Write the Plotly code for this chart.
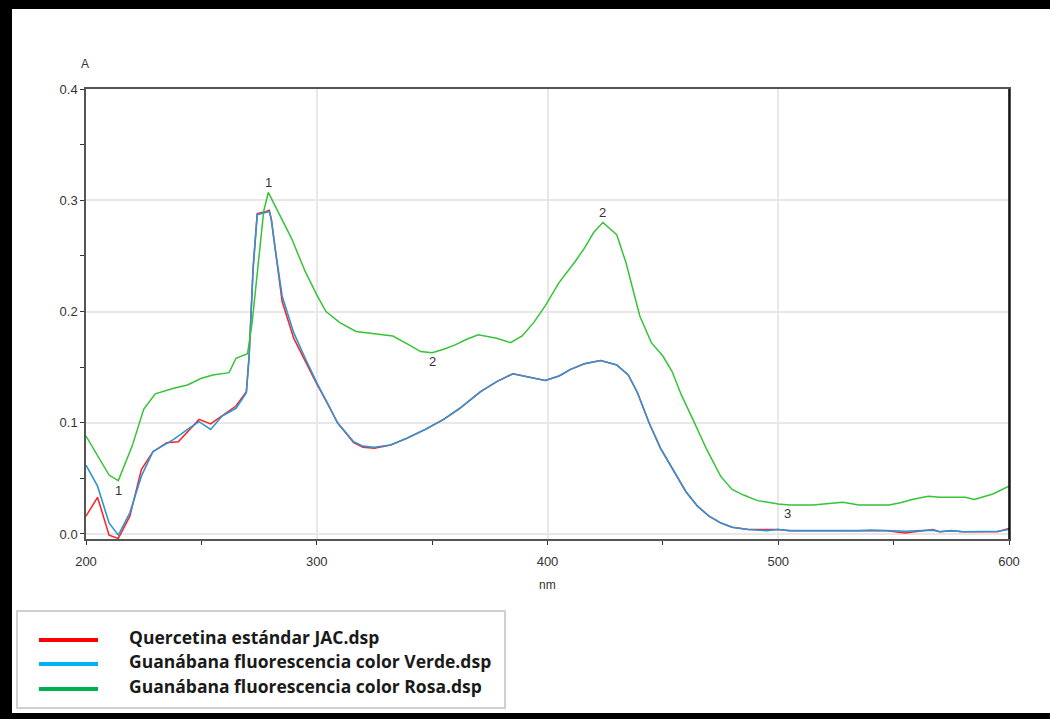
import plotly.graph_objects as go

# ---------------- data ----------------
wl_rosa = [200, 205, 210, 214, 220, 225, 230, 238, 244, 250, 255, 262, 265, 270,
           272, 275, 277, 279, 284, 289, 295, 300, 304, 310, 317, 325, 333, 340,
           345, 350, 355, 360, 365, 370, 378, 384, 389, 394, 399, 405, 412, 416,
           420, 424, 430, 434, 440, 445, 450, 454, 458, 463, 469, 475, 480, 485,
           491, 500, 505, 515, 522, 528, 535, 548, 553, 558, 565, 570, 581, 585,
           593, 600]
abs_rosa = [0.088, 0.071, 0.053, 0.048, 0.079, 0.112, 0.126, 0.131, 0.134, 0.140,
            0.143, 0.145, 0.158, 0.162, 0.190, 0.250, 0.290, 0.307, 0.286, 0.266,
            0.236, 0.215, 0.200, 0.190, 0.182, 0.180, 0.178, 0.170, 0.164, 0.163,
            0.166, 0.170, 0.175, 0.179, 0.176, 0.172, 0.178, 0.190, 0.205, 0.226,
            0.245, 0.257, 0.271, 0.280, 0.269, 0.244, 0.196, 0.172, 0.160, 0.146,
            0.125, 0.103, 0.076, 0.052, 0.040, 0.035, 0.030, 0.027, 0.026, 0.026,
            0.027, 0.0285, 0.026, 0.026, 0.028, 0.031, 0.034, 0.033, 0.033, 0.031,
            0.036, 0.043]

wl_verde = [200, 205, 210, 214, 219, 224, 229, 234, 238, 244, 249, 254, 259, 265,
            269.5, 270.7, 272.4, 274.2, 278, 279.4, 280.3, 282, 285, 290, 295, 300,
            305, 309, 316, 320, 325, 332, 339, 347, 355, 362, 371, 378, 385, 392,
            399, 405, 410, 416, 423, 430, 435, 439, 444, 449, 455, 460, 465, 470,
            475, 480, 487, 495, 500, 505, 535, 540, 547, 555, 562, 567, 570, 575,
            580, 590, 595, 600]
abs_verde = [0.062, 0.043, 0.010, -0.001, 0.019, 0.052, 0.074, 0.080, 0.085, 0.094,
             0.101, 0.094, 0.106, 0.113, 0.127, 0.160, 0.238, 0.287, 0.289, 0.290,
             0.283, 0.256, 0.214, 0.181, 0.158, 0.136, 0.116, 0.100, 0.083, 0.079,
             0.078, 0.080, 0.086, 0.094, 0.103, 0.113, 0.128, 0.137, 0.144, 0.141,
             0.138, 0.142, 0.148, 0.153, 0.156, 0.152, 0.143, 0.127, 0.100, 0.077,
             0.055, 0.038, 0.025, 0.016, 0.010, 0.006, 0.004, 0.003, 0.004, 0.003,
             0.003, 0.0035, 0.003, 0.0025, 0.003, 0.0035, 0.002, 0.003, 0.002, 0.002,
             0.0025, 0.004]

wl_querc = [200, 205, 210, 214, 219, 224, 229, 235, 240, 244, 249, 254, 259, 265,
            269.5, 270.7, 272.4, 274.2, 278, 279.4, 280.3, 282, 285, 290, 295, 300,
            305, 309, 316, 320, 325, 332, 339, 347, 355, 362, 371, 378, 385, 392,
            399, 405, 410, 416, 423, 430, 435, 439, 444, 449, 455, 460, 465, 470,
            475, 480, 487, 495, 500, 505, 535, 540, 547, 555, 562, 567, 570, 575,
            580, 590, 595, 600]
abs_querc = [0.016, 0.033, -0.001, -0.004, 0.016, 0.058, 0.074, 0.082, 0.083, 0.092,
             0.103, 0.099, 0.106, 0.115, 0.128, 0.160, 0.238, 0.288, 0.290, 0.291,
             0.283, 0.255, 0.209, 0.176, 0.155, 0.135, 0.116, 0.100, 0.082, 0.078,
             0.077, 0.080, 0.086, 0.094, 0.103, 0.113, 0.128, 0.137, 0.144, 0.141,
             0.138, 0.142, 0.148, 0.153, 0.156, 0.152, 0.143, 0.127, 0.100, 0.077,
             0.055, 0.038, 0.025, 0.016, 0.010, 0.006, 0.004, 0.004, 0.004, 0.003,
             0.003, 0.003, 0.003, 0.001, 0.003, 0.004, 0.002, 0.003, 0.002, 0.002,
             0.002, 0.005]

series_names = ["Quercetina estándar JAC.dsp",
                "Guanábana fluorescencia color Verde.dsp",
                "Guanábana fluorescencia color Rosa.dsp"]

peak_x = [279, 214, 424, 350, 504]
peak_y = [0.316, 0.039, 0.289, 0.155, 0.018]
peak_text = ["1", "1", "2", "2", "3"]

x_ticks = [200, 300, 400, 500, 600]
y_ticks = [0.0, 0.1, 0.2, 0.3, 0.4]

# ---------------- figure ----------------
W, H = 1052, 719
L, R, T, B = 86, 1009, 89, 539   # plot area pixel bounds


def px(xp):
    return (xp - L) / (R - L)


def py(yp):
    return (B - yp) / (B - T)


fig = go.Figure()
fig.add_trace(go.Scatter(x=wl_querc, y=abs_querc, mode="lines", name=series_names[0],
                         line=dict(color="#ff2020", width=1.5), showlegend=False))
fig.add_trace(go.Scatter(x=wl_verde, y=abs_verde, mode="lines", name=series_names[1],
                         line=dict(color="#2d95d6", width=1.6), showlegend=False))
fig.add_trace(go.Scatter(x=wl_rosa, y=abs_rosa, mode="lines", name=series_names[2],
                         line=dict(color="#35c435", width=1.5), showlegend=False))

for xx, yy, tt in zip(peak_x, peak_y, peak_text):
    fig.add_annotation(x=xx, y=yy, text=tt, showarrow=False,
                       xanchor="center", yanchor="middle",
                       font=dict(family="Liberation Sans", size=13, color="#333333"))

axis_common = dict(showline=True, mirror=True, linecolor="#555555", linewidth=1.5,
                   showgrid=True, gridcolor="#e8e8e8", gridwidth=1.5, zeroline=False,
                   ticks="outside", ticklen=4, tickcolor="#333333", tickwidth=1,
                   tickfont=dict(family="Liberation Sans", size=13, color="#333333"))

fig.update_xaxes(range=[200, 600], tickvals=x_ticks, ticktext=[str(v) for v in x_ticks],
                 minor=dict(dtick=50, tick0=200, ticks="outside", ticklen=4,
                            tickcolor="#333333", showgrid=False),
                 ticklabelstandoff=6, **axis_common)
fig.update_yaxes(range=[-0.0045, 0.4], tickvals=y_ticks,
                 ticktext=[f"{v:.1f}" for v in y_ticks],
                 minor=dict(dtick=0.05, tick0=0, ticks="outside", ticklen=4,
                            tickcolor="#333333", showgrid=False),
                 **axis_common)

# axis titles
fig.add_annotation(xref="paper", yref="paper", x=px(85), y=py(64), text="A",
                   showarrow=False, xanchor="center", yanchor="middle",
                   font=dict(family="Liberation Sans", size=12, color="#333333"))
fig.add_annotation(xref="paper", yref="paper", x=px(547), y=py(585), text="nm",
                   showarrow=False, xanchor="center", yanchor="middle",
                   font=dict(family="Liberation Sans", size=12, color="#333333"))

shapes = []
# right frame line in black
shapes.append(dict(type="line", xref="paper", yref="paper", x0=1, x1=1, y0=0, y1=1,
                   line=dict(color="#000000", width=1.5)))
# outer black border (top, left, bottom)
shapes.append(dict(type="rect", xref="paper", yref="paper", x0=px(0), x1=px(1050),
                   y0=py(9), y1=py(0), fillcolor="#000000", line=dict(width=0)))
shapes.append(dict(type="rect", xref="paper", yref="paper", x0=px(0), x1=px(12),
                   y0=py(719), y1=py(0), fillcolor="#000000", line=dict(width=0)))
shapes.append(dict(type="rect", xref="paper", yref="paper", x0=px(0), x1=px(1050),
                   y0=py(719), y1=py(713), fillcolor="#000000", line=dict(width=0)))
# legend box
shapes.append(dict(type="rect", xref="paper", yref="paper", x0=px(17), x1=px(505),
                   y0=py(708), y1=py(611), fillcolor="#ffffff",
                   line=dict(color="#d0d0d0", width=2)))
legend_colors = ["#ff0000", "#00b0f0", "#00b050"]
legend_rows = [640, 664, 689]
for c, ry, name in zip(legend_colors, legend_rows, series_names):
    shapes.append(dict(type="line", xref="paper", yref="paper", x0=px(39), x1=px(98),
                       y0=py(ry), y1=py(ry), line=dict(color=c, width=4)))
    fig.add_annotation(xref="paper", yref="paper", x=px(127), y=py(ry - 3), text=name,
                       showarrow=False, xanchor="left", yanchor="middle",
                       font=dict(family="Open Sans", size=17.5, color="#1a1a1a", weight="bold"))

fig.update_layout(width=W, height=H, margin=dict(l=L, r=W - R, t=T, b=H - B),
                  paper_bgcolor="#ffffff", plot_bgcolor="#ffffff", shapes=shapes,
                  showlegend=False)

fig.write_html("out.html", config={"displayModeBar": False},
               post_script="document.body.style.margin='0';document.body.style.overflow='hidden';")
